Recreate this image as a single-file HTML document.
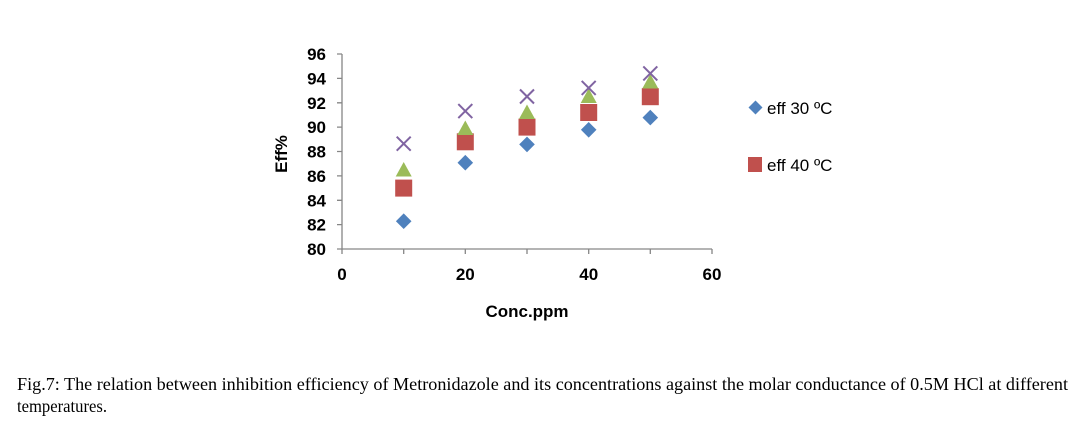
<!DOCTYPE html>
<html><head><meta charset="utf-8"><style>
html,body{margin:0;padding:0;background:#fff;}
svg{display:block;}
.t{font-family:"Liberation Sans",sans-serif;font-weight:bold;font-size:17px;fill:#000;}
.c{font-family:"Liberation Serif",serif;font-size:18px;fill:#000;}
</style></head><body>
<svg width="1073" height="421" viewBox="0 0 1073 421" xmlns="http://www.w3.org/2000/svg">
<rect width="1073" height="421" fill="#fff"/>
<g stroke="#868686" stroke-width="1.3" fill="none">
<path d="M342 54V249H712"/>
<path d="M337 54H342M337 78.4H342M337 102.8H342M337 127.1H342M337 151.5H342M337 175.9H342M337 200.3H342M337 224.6H342M337 249H342"/>
<path d="M342 249V254M403.7 249V254M465.3 249V254M527 249V254M588.7 249V254M650.3 249V254M712 249V254"/>
</g>
<g class="t" text-anchor="end">
<text x="326" y="60">96</text><text x="326" y="84.4">94</text><text x="326" y="108.8">92</text>
<text x="326" y="133.1">90</text><text x="326" y="157.5">88</text><text x="326" y="181.9">86</text>
<text x="326" y="206.3">84</text><text x="326" y="230.6">82</text><text x="326" y="255">80</text>
</g>
<g class="t" text-anchor="middle">
<text x="342" y="280">0</text><text x="465.3" y="280">20</text><text x="588.7" y="280">40</text><text x="712" y="280">60</text>
<text x="527" y="317">Conc.ppm</text>
<text transform="translate(287,154) rotate(-90)">Eff%</text>
</g>
<g fill="#4f81bd">
<path d="M403.7 213.4l7.8 7.8-7.8 7.8-7.8-7.8z"/>
<path d="M465.3 154.9l7.8 7.8-7.8 7.8-7.8-7.8z"/>
<path d="M527 136.6l7.8 7.8-7.8 7.8-7.8-7.8z"/>
<path d="M588.7 122l7.8 7.8-7.8 7.8-7.8-7.8z"/>
<path d="M650.3 109.8l7.8 7.8-7.8 7.8-7.8-7.8z"/>
</g>
<g fill="#c0504d">
<rect x="395.2" y="179.6" width="17" height="17"/>
<rect x="456.8" y="133.3" width="17" height="17"/>
<rect x="518.5" y="118.6" width="17" height="17"/>
<rect x="580.2" y="104" width="17" height="17"/>
<rect x="641.8" y="88.2" width="17" height="17"/>
</g>
<g fill="#9bbb59">
<path d="M403.7 162l8 14.5h-16z"/>
<path d="M465.3 120.5l8 14.5h-16z"/>
<path d="M527 104.5l8 14.5h-16z"/>
<path d="M588.7 88.5l8 14.5h-16z"/>
<path d="M650.3 74l8 14.5h-16z"/>
</g>
<g stroke="#8064a2" stroke-width="2" fill="none">
<path d="M396.7 136.7l14 14M410.7 136.7l-14 14"/>
<path d="M458.3 104.1l14 14M472.3 104.1l-14 14"/>
<path d="M520 89.5l14 14M534 89.5l-14 14"/>
<path d="M581.7 80.9l14 14M595.7 80.9l-14 14"/>
<path d="M643.3 66.4l14 14M657.3 66.4l-14 14"/>
</g>
<path d="M755.5 100.5l7 7-7 7-7-7z" fill="#4f81bd"/>
<text x="767" y="114" style="font-family:'Liberation Sans',sans-serif;font-size:17px;">eff 30 ºC</text>
<rect x="748" y="157" width="14" height="15" fill="#c0504d"/>
<text x="767" y="171" style="font-family:'Liberation Sans',sans-serif;font-size:17px;">eff 40 ºC</text>
<text class="c" x="17" y="390" textLength="1051" lengthAdjust="spacingAndGlyphs">Fig.7: The relation between inhibition efficiency of Metronidazole and its concentrations against the molar conductance  of  0.5M HCl at  different</text>
<text class="c" x="17" y="412" textLength="90" lengthAdjust="spacingAndGlyphs">temperatures.</text>
</svg>
</body></html>
